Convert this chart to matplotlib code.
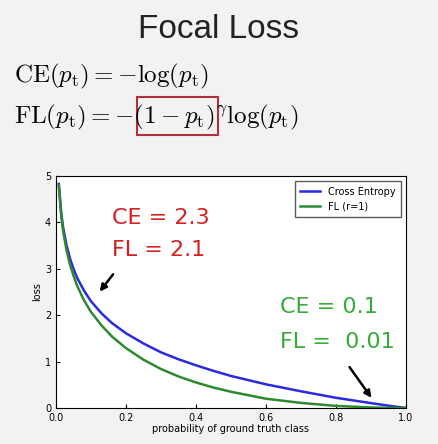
import matplotlib.pyplot as plt
from matplotlib.patches import Rectangle

# values
prob = [0.008, 0.015, 0.02, 0.03, 0.04, 0.05, 0.06, 0.08, 0.1, 0.13, 0.16, 0.2, 0.25, 0.3,
        0.35, 0.4, 0.45, 0.5, 0.6, 0.7, 0.8, 0.9, 0.95, 1.0]
ce_loss = [4.83, 4.20, 3.91, 3.51, 3.22, 3.00, 2.81, 2.53, 2.30, 2.04, 1.83, 1.61, 1.39,
           1.20, 1.05, 0.92, 0.80, 0.69, 0.51, 0.36, 0.22, 0.105, 0.05, 0.0]
fl_loss = [4.79, 4.14, 3.83, 3.40, 3.09, 2.85, 2.64, 2.32, 2.07, 1.78, 1.54, 1.29, 1.04,
           0.84, 0.68, 0.55, 0.44, 0.35, 0.20, 0.11, 0.045, 0.011, 0.003, 0.0]
xticks = [0.0, 0.2, 0.4, 0.6, 0.8, 1.0]
yticks = [0, 1, 2, 3, 4, 5]

W, H = 438, 444
fig = plt.figure(figsize=(W / 100, H / 100), dpi=100, facecolor="#f2f2f2")

fig.text(219 / W, 1 - 30 / H, "Focal Loss", ha="center", va="center", fontsize=24,
         family="Liberation Sans", color="#222222")
fig.text(14 / W, 1 - 76 / H, r"$\mathrm{CE}(p_\mathrm{t}) = -\log(p_\mathrm{t})$",
         ha="left", va="center", fontsize=18, math_fontfamily="cm")
fig.text(14 / W, 1 - 117 / H,
         r"$\mathrm{FL}(p_\mathrm{t}) = -(1-p_\mathrm{t})^\gamma\log(p_\mathrm{t})$",
         ha="left", va="center", fontsize=18, math_fontfamily="cm")
fig.patches.append(Rectangle((137 / W, 1 - 135 / H), 81 / W, 38 / H, fill=False,
                             edgecolor="#b03040", linewidth=1.5,
                             transform=fig.transFigure))

ax = fig.add_axes([56 / W, 1 - 408 / H, 350 / W, 232 / H])
ax.plot(prob, ce_loss, color="#2a2ae0", lw=1.8, label="Cross Entropy")
ax.plot(prob, fl_loss, color="#2e8a2e", lw=1.8, label="FL (r=1)")
ax.set_xlim(0, 1)
ax.set_ylim(0, 5)
ax.set_xticks(xticks)
ax.set_yticks(yticks)
ax.tick_params(labelsize=7, length=3, direction="in")
ax.set_xlabel("probability of ground truth class", fontsize=7, labelpad=1)
ax.set_ylabel("loss", fontsize=7, labelpad=2)
ax.legend(loc="upper right", fontsize=7, frameon=True, fancybox=False,
          edgecolor="#333333", borderpad=0.6)

ax.text(0.16, 4.1, "CE = 2.3", color="#d42020", fontsize=16, va="center")
ax.text(0.16, 3.4, "FL = 2.1", color="#d42020", fontsize=16, va="center")
ax.text(0.64, 2.18, "CE = 0.1", color="#3aaa3a", fontsize=16, va="center")
ax.text(0.64, 1.42, "FL =  0.01", color="#3aaa3a", fontsize=16, va="center")
ax.annotate("", xy=(0.12, 2.46), xytext=(0.168, 2.93),
            arrowprops=dict(arrowstyle="-|>", color="black", lw=1.8))
ax.annotate("", xy=(0.906, 0.17), xytext=(0.834, 0.93),
            arrowprops=dict(arrowstyle="-|>", color="black", lw=1.8))

fig.savefig("out.png", dpi=100, facecolor=fig.get_facecolor())
